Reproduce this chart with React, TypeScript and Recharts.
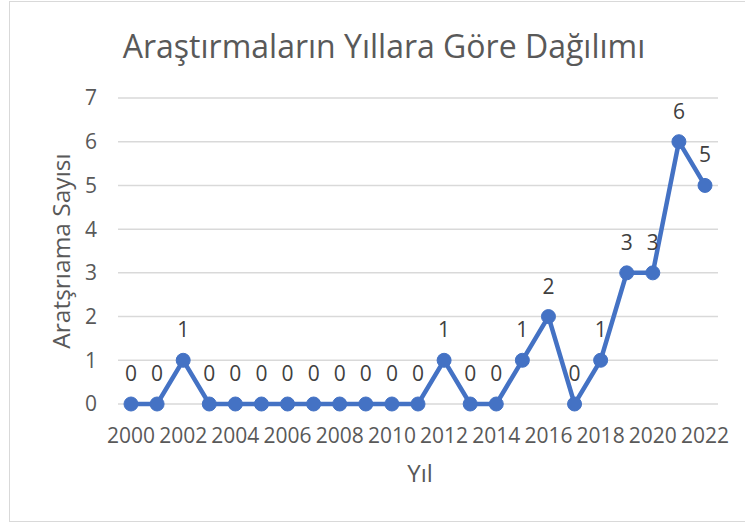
import React from 'react';
import { LineChart, Line, XAxis, YAxis, CartesianGrid, LabelList, Label } from 'recharts';

const years = ['2000','2001','2002','2003','2004','2005','2006','2007','2008','2009','2010','2011','2012','2013','2014','2015','2016','2017','2018','2019','2020','2021','2022'];
const counts = [0,0,1,0,0,0,0,0,0,0,0,0,1,0,0,1,2,0,1,3,3,6,5];
const yTicks = [0,1,2,3,4,5,6,7];

const data = years.map((y, i) => ({ year: y, value: counts[i] }));

const FONT = "'Open Sans', sans-serif";

export default function App() {
  return (
    <div style={{ position: 'absolute', left: 0, top: 0, width: 745, height: 524, background: '#fff', overflow: 'hidden', fontFamily: FONT }}>
      <div style={{ position: 'absolute', left: 9, top: 1, width: 760, height: 521, border: '1.5px solid #d9d9d9', boxSizing: 'border-box' }} />
      <div style={{ position: 'absolute', left: 0, top: 26, width: 768, textAlign: 'center', fontSize: 32, lineHeight: '40px', color: '#595959', fontFamily: FONT }}>
        Araştırmaların Yıllara Göre Dağılımı
      </div>
      <div style={{ position: 'absolute', left: 0, top: 0 }}>
        <LineChart width={745} height={524} data={data} margin={{ top: 98, right: 27, bottom: 40, left: 0 }}>
          <CartesianGrid vertical={false} stroke="#d9d9d9" strokeWidth={1.5} />
          <XAxis
            dataKey="year"
            interval={1}
            axisLine={false}
            tickLine={false}
            tickSize={0}
            tickMargin={24}
            height={80}
            padding={{ left: 13, right: 13 }}
            tick={{ fill: '#595959', fontSize: 21, fontFamily: FONT }}
          >
            <Label value="Yıl" position="insideBottom" offset={2} dx={2} style={{ fill: '#595959', fontSize: 24, fontFamily: FONT }} />
          </XAxis>
          <YAxis
            domain={[0, 7]}
            ticks={yTicks}
            width={118}
            axisLine={false}
            tickLine={false}
            tickSize={0}
            tickMargin={21}
            tick={{ fill: '#595959', fontSize: 21, fontFamily: FONT }}
          >
            <Label value="Aratşrıama Sayısı" angle={-90} position="insideLeft" offset={61} style={{ fill: '#595959', fontSize: 24.5, fontFamily: FONT, textAnchor: 'middle' }} />
          </YAxis>
          <Line
            type="linear"
            dataKey="value"
            stroke="#4472C4"
            strokeWidth={4.5}
            dot={{ r: 7, fill: '#4472C4', stroke: '#4472C4', strokeWidth: 1 }}
            isAnimationActive={false}
          >
            <LabelList dataKey="value" position="top" offset={23} style={{ fill: '#404040', fontSize: 21, fontFamily: FONT }} />
          </Line>
        </LineChart>
      </div>
    </div>
  );
}
